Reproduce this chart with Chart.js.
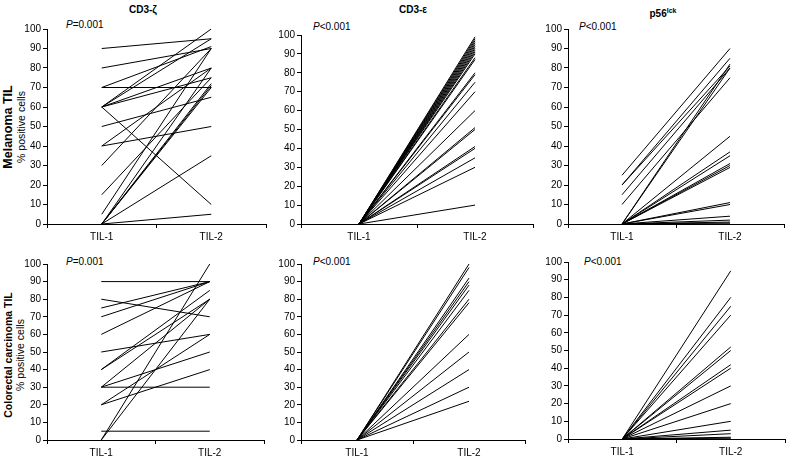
<!DOCTYPE html>
<html>
<head>
<meta charset="utf-8">
<script src="https://cdn.jsdelivr.net/npm/chart.js@4.4.1/dist/chart.umd.min.js"></script>
<style>
  html, body { margin: 0; padding: 0; background: #fff; }
  body { width: 787px; height: 458px; position: relative; overflow: hidden;
         font-family: "Liberation Sans", Arial, sans-serif; color: #000; }
  .panel { position: absolute; }
  .txt { position: absolute; white-space: nowrap; font-size: 10px; line-height: 1; }
  .title { font-weight: bold; transform: translateX(-50%); }
  .ytitle { transform-origin: 0 0; transform: rotate(-90deg) translateX(-50%); }
  .ytitle .main { font-weight: bold; display: block; text-align: center; }
  .ytitle .sub { font-size: 10.5px; display: block; text-align: center; margin-top: 1px; }
  sup { font-size: 7px; vertical-align: 4px; }
</style>
</head>
<body>

<div class="txt title" style="left:143px; top:5px;">CD3-ζ</div>
<div class="txt title" style="left:413px; top:5px;">CD3-ε</div>
<div class="txt title" style="left:663px; top:7px;">p56<sup>lck</sup></div>

<div class="txt ytitle" style="left:2px; top:127px;"><span class="main" style="font-size:12.5px;">Melanoma TIL</span><span class="sub">% positive cells</span></div>
<div class="txt ytitle" style="left:3px; top:355px;"><span class="main" style="font-size:10.5px;">Colorectal carcinoma TIL</span><span class="sub">% positive cells</span></div>

<div class="txt" style="left:66px; top:20px;"><i>P</i>=0.001</div>
<div class="txt" style="left:313px; top:22px;"><i>P</i>&lt;0.001</div>
<div class="txt" style="left:579px; top:22px;"><i>P</i>&lt;0.001</div>
<div class="txt" style="left:66px; top:257px;"><i>P</i>=0.001</div>
<div class="txt" style="left:313px; top:257px;"><i>P</i>&lt;0.001</div>
<div class="txt" style="left:584px; top:257px;"><i>P</i>&lt;0.001</div>

<div class="panel" id="p1"><canvas id="c1"></canvas></div>
<div class="panel" id="p2"><canvas id="c2"></canvas></div>
<div class="panel" id="p3"><canvas id="c3"></canvas></div>
<div class="panel" id="p4"><canvas id="c4"></canvas></div>
<div class="panel" id="p5"><canvas id="c5"></canvas></div>
<div class="panel" id="p6"><canvas id="c6"></canvas></div>

<script>
// ---------- data ----------
const categories = ['TIL-1', 'TIL-2'];
const yMin = 0, yMax = 100, yStep = 10;

// Melanoma TIL, CD3-zeta
const melZetaTil1 = [90, 80, 70, 70, 60, 60, 60, 60, 60, 50, 40, 40, 30, 15, 5, 0, 0, 0, 0, 0, 0];
const melZetaTil2 = [95, 90, 70, 91, 100, 95, 80, 75, 10, 65, 80, 50, 90, 75, 90, 70, 71, 72, 80, 35, 5];

// Melanoma TIL, CD3-epsilon
const melEpsTil1 = [0, 0, 0, 0, 0, 0, 0, 0, 0, 0, 0, 0, 0, 0, 0, 0, 0, 0, 0, 0, 0, 0, 0, 0];
const melEpsTil2 = [99, 98, 97, 96, 95, 94, 93, 92, 91, 90, 88, 87, 80, 79, 75, 70, 60, 51, 50, 41, 40, 35, 30, 10];

// Melanoma TIL, p56lck
const melLckTil1 = [25, 20, 20, 15, 10, 0, 0, 0, 0, 0, 0, 0, 0, 0, 0, 0, 0, 0, 0, 0];
const melLckTil2 = [90, 85, 81, 80, 75, 82, 80, 45, 37, 35, 31, 30, 29, 11, 10, 4, 2, 1, 0.5, 0];

// Colorectal carcinoma TIL, CD3-zeta
const crcZetaTil1 = [90, 80, 75, 70, 60, 50, 40, 40, 30, 30, 30, 20, 20, 5, 0, 0];
const crcZetaTil2 = [90, 70, 90, 90, 90, 60, 80, 85, 30, 50, 80, 40, 60, 5, 100, 80];

// Colorectal carcinoma TIL, CD3-epsilon
const crcEpsTil1 = [0, 0, 0, 0, 0, 0, 0, 0, 0, 0, 0, 0, 0];
const crcEpsTil2 = [100, 98, 92, 90, 88, 85, 80, 78, 60, 50, 40, 30, 22];

// Colorectal carcinoma TIL, p56lck
const crcLckTil1 = [0, 0, 0, 0, 0, 0, 0, 0, 0, 0, 0, 0, 0, 0, 0, 0];
const crcLckTil2 = [95, 80, 75, 70, 52, 50, 42, 40, 30, 20, 10, 5, 3, 1, 0.5, 0];

// ---------- layout (plot area in page px) ----------
const Y_AXIS_W = 30, X_AXIS_H = 22, PAD_TOP = 8, PAD_RIGHT = 3;
const panels = [
  { id: 'p1', canvas: 'c1', t1: melZetaTil1, t2: melZetaTil2, L: 47,  R: 266, T: 29,  B: 224 },
  { id: 'p2', canvas: 'c2', t1: melEpsTil1,  t2: melEpsTil2,  L: 301, R: 533, T: 35,  B: 224 },
  { id: 'p3', canvas: 'c3', t1: melLckTil1,  t2: melLckTil2,  L: 568, R: 784, T: 29,  B: 224 },
  { id: 'p4', canvas: 'c4', t1: crcZetaTil1, t2: crcZetaTil2, L: 47,  R: 264, T: 264, B: 440 },
  { id: 'p5', canvas: 'c5', t1: crcEpsTil1,  t2: crcEpsTil2,  L: 301, R: 525, T: 264, B: 440 },
  { id: 'p6', canvas: 'c6', t1: crcLckTil1,  t2: crcLckTil2,  L: 568, R: 785, T: 262, B: 439 },
];

const tickFont = { family: '"Liberation Sans", Arial, sans-serif', size: 10 };

function buildChart(p) {
  const box = document.getElementById(p.id);
  const left = p.L - Y_AXIS_W, top = p.T - PAD_TOP;
  box.style.left = left + 'px';
  box.style.top = top + 'px';
  box.style.width = (p.R - left + PAD_RIGHT) + 'px';
  box.style.height = (p.B - top + X_AXIS_H) + 'px';

  const datasets = p.t1.map((v, i) => ({
    data: [v, p.t2[i]],
    borderColor: '#000',
    borderWidth: 1,
    pointRadius: 0,
    fill: false,
    tension: 0,
  }));

  new Chart(document.getElementById(p.canvas), {
    type: 'line',
    data: { labels: categories, datasets },
    options: {
      responsive: true,
      maintainAspectRatio: false,
      animation: false,
      layout: { padding: { top: PAD_TOP, right: PAD_RIGHT, left: 0, bottom: 0 } },
      plugins: { legend: { display: false }, tooltip: { enabled: false } },
      scales: {
        x: {
          type: 'category',
          offset: true,
          grid: { display: true, drawOnChartArea: false, offset: true, tickLength: 4, color: '#000', lineWidth: 1 },
          border: { display: true, color: '#000', width: 1 },
          ticks: { color: '#000', font: tickFont, padding: 3, maxRotation: 0 },
          afterFit: s => { s.height = X_AXIS_H; },
        },
        y: {
          min: yMin, max: yMax,
          grid: { display: true, drawOnChartArea: false, tickLength: 4, color: '#000', lineWidth: 1 },
          border: { display: true, color: '#000', width: 1 },
          ticks: { color: '#000', font: tickFont, stepSize: yStep, padding: 2 },
          afterFit: s => { s.width = Y_AXIS_W; },
        },
      },
    },
  });
}

panels.forEach(buildChart);
</script>
</body>
</html>
